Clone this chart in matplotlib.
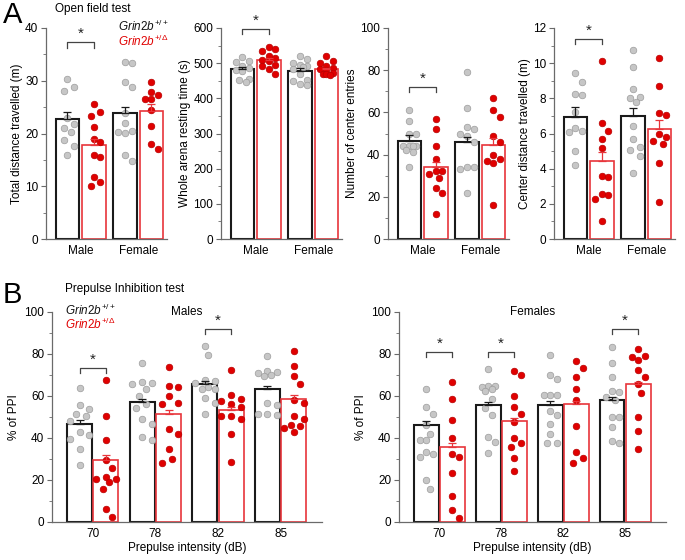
import matplotlib
matplotlib.use("Agg")
import matplotlib.pyplot as plt
import numpy as np
from matplotlib.ticker import MultipleLocator

plt.rcParams["font.family"] = "Liberation Sans"
plt.rcParams["mathtext.fontset"] = "custom"
plt.rcParams["mathtext.rm"] = "Liberation Sans"
plt.rcParams["mathtext.it"] = "Liberation Sans:italic"
plt.rcParams["font.size"] = 8

# ---------------- data: open field test (panel A) ----------------
sexes = ["Male", "Female"]

dist_wt_mean = [22.8, 23.9]
dist_wt_sem = [1.2, 1.1]
dist_het_mean = [17.9, 24.3]
dist_het_sem = [1.0, 1.2]
dist_wt_pts = [[30.3, 28.8, 28.1, 22.9, 21.8, 21.1, 20.3, 18.8, 17.6, 16.0],
               [33.6, 33.3, 29.7, 28.8, 23.9, 22.0, 20.4, 20.3, 20.1, 16.0, 14.8]]
dist_het_pts = [[25.5, 24.0, 23.3, 21.3, 18.9, 18.4, 16.0, 15.5, 11.8, 10.9, 10.0],
                [29.7, 27.8, 27.3, 26.6, 26.6, 24.5, 21.5, 18.0, 17.0]]

rest_wt_mean = [482, 478]
rest_wt_sem = [7, 8]
rest_het_mean = [508, 482]
rest_het_sem = [8, 5]
rest_wt_pts = [[518, 506, 502, 491, 485, 481, 478, 455, 452, 446],
               [520, 513, 500, 495, 493, 488, 482, 470, 452, 448, 442, 438]]
rest_het_pts = [[546, 539, 535, 520, 516, 510, 505, 496, 492, 482, 469],
                [519, 506, 500, 491, 486, 482, 480, 472, 469, 468, 467]]

entr_wt_mean = [46.6, 46.0]
entr_wt_sem = [2.8, 2.5]
entr_het_mean = [34.0, 44.7]
entr_het_sem = [2.7, 3.2]
entr_wt_pts = [[61, 56, 50, 50, 44, 44, 44, 44, 42, 41, 34],
               [79, 62, 53, 52, 50, 49, 46, 34, 34, 33, 22]]
entr_het_pts = [[57, 52, 44, 38, 32, 32, 31, 29, 24, 22, 12],
                [67, 61, 58, 49, 46, 40, 38, 37, 36, 16]]

cdist_wt_mean = [6.96, 7.0]
cdist_wt_sem = [0.55, 0.47]
cdist_het_mean = [4.46, 6.24]
cdist_het_sem = [0.5, 0.5]
cdist_wt_pts = [[9.45, 8.95, 8.25, 8.2, 7.2, 6.3, 6.15, 6.1, 5.0, 4.2],
                [10.75, 9.8, 8.55, 8.05, 8.0, 7.8, 6.45, 5.7, 5.25, 5.05, 4.7, 3.75]]
cdist_het_pts = [[10.15, 6.6, 6.15, 5.7, 5.15, 3.6, 3.55, 2.55, 2.5, 2.3, 1.0],
                 [10.3, 8.7, 7.15, 7.05, 5.95, 5.8, 5.55, 5.4, 4.3, 2.1]]

# ---------------- data: prepulse inhibition (panel B) ----------------
intensities = ["70", "78", "82", "85"]

ppi_m_wt_mean = [46.8, 57.0, 65.6, 63.2]
ppi_m_wt_sem = [1.9, 1.6, 1.5, 1.7]
ppi_m_het_mean = [29.7, 51.6, 53.2, 58.7]
ppi_m_het_sem = [2.2, 1.8, 1.8, 1.8]
ppi_m_wt_pts = [[63.8, 55.9, 54, 51.6, 50.5, 48.1, 42.9, 41.3, 39.7, 34.6, 27],
                [75.5, 66.5, 66, 65.5, 63.5, 60, 56, 54.5, 49, 46.5, 40.5, 39],
                [84, 79.5, 67.5, 67, 66, 64.5, 63.5, 63.5, 59, 56.5, 51.5],
                [79, 72, 71.5, 71, 70, 69.5, 56.5, 55.5, 51.5, 51.5, 51]]
ppi_m_het_pts = [[67.5, 50.5, 39, 29.4, 25.6, 21.4, 20.5, 20.3, 19.2, 15.5, 6.0, 2.4],
                 [73.8, 64.3, 64.8, 59.8, 56.7, 56.3, 44.1, 42, 34.6, 30.2, 28.1],
                 [72.2, 60.3, 58.7, 57.5, 56.3, 54.8, 50.5, 50.5, 49.2, 42.1, 28.6],
                 [81.5, 74.5, 69.5, 65.5, 58, 56.5, 50.5, 49, 46, 45.5, 45, 43]]

ppi_f_wt_mean = [46.3, 55.9, 55.9, 58.3]
ppi_f_wt_sem = [1.7, 1.3, 1.6, 1.1]
ppi_f_het_mean = [35.8, 48.0, 56.0, 65.5]
ppi_f_het_sem = [1.9, 1.6, 1.6, 1.2]
ppi_f_wt_pts = [[63.4, 54.8, 51.2, 46.1, 41.7, 39, 39, 33.3, 32.5, 30.9, 20, 15.7],
                [73, 65, 64.7, 64.2, 63.4, 62.3, 58.6, 54.4, 50.9, 40.4, 38, 33],
                [79.4, 69.9, 68.1, 60.7, 60.7, 60.4, 52.8, 50.9, 46.9, 41.7, 37.7, 37.4],
                [83.2, 75.8, 68.9, 62.6, 62, 59.5, 58.3, 49.9, 49.9, 45.3, 38.5, 37.4]]
ppi_f_het_pts = [[66.6, 58.6, 48.8, 40.1, 32.2, 31.1, 23.5, 12.4, 5.7, 2.1],
                 [71.8, 69.9, 59.9, 54.7, 51.2, 47.7, 40.1, 37.7, 35.8, 30.6, 24.2],
                 [76.9, 73.4, 68.9, 63.1, 58.3, 45.6, 33.4, 30.6, 27.9],
                 [82.4, 78.6, 78.9, 77.3, 72.6, 69.1, 65.5, 61.2, 50.1, 43.3, 35]]

# ---------------- style ----------------
W, H = 685, 560
WT_EDGE = "#1a1a1a"
HET_EDGE = "#e8353b"
WT_DOT = "#c6c6c6"
WT_DOT_EDGE = "#9c9c9c"
HET_DOT = "#e00000"
HET_DOT_EDGE = "#b80000"
SPINE = "#6a6a6a"
DOT_PX = 6.6
SPREAD = 1.45  # spacing kept between dots, in dot diameters


def fx(px):
    return px / W


def fy(py):
    return 1 - py / H


def swarm_x(ax, xc, vals, half_w):
    # simple beeswarm in pixel space, kept inside the bar
    vals = np.asarray(vals, dtype=float)
    disp = ax.transData.transform(np.column_stack([np.full(len(vals), xc), vals]))
    ppx = ax.transData.transform((1, 0))[0] - ax.transData.transform((0, 0))[0]
    ys = disp[:, 1]
    lim = half_w * ppx - 2.5
    step = 0.5 * DOT_PX
    steps = [0.0]
    k = 1
    while k * step <= lim:
        steps += [k * step, -k * step]
        k += 1
    placed = []
    offs = np.zeros(len(vals))
    for i in np.argsort(-ys):
        best, best_d = 0.0, -1
        for s in steps:
            d = min([np.hypot(s - px, ys[i] - py) for px, py in placed] + [99])
            if d >= SPREAD * DOT_PX:
                best = s
                break
            if d > best_d + 0.5:
                best, best_d = s, d
        placed.append((best, ys[i]))
        offs[i] = best / ppx
    return xc + offs


def draw_bars(ax, x, mean, sem, pts, het, off, width):
    edge = HET_EDGE if het else WT_EDGE
    xs = np.asarray(x) + (off if het else -off)
    ax.bar(xs, mean, width=width, facecolor="white", edgecolor=edge,
           linewidth=1.2 if het else 1.5, zorder=2)
    ax.errorbar(xs, mean, yerr=[np.zeros(len(sem)), sem], fmt="none", ecolor=edge,
                elinewidth=0.9, capsize=2.8, capthick=0.9, zorder=4)
    for xc, p in zip(xs, pts):
        ax.scatter(swarm_x(ax, xc, p, width / 2), p, s=(DOT_PX / 1.389) ** 2,
                   facecolor=HET_DOT if het else WT_DOT,
                   edgecolor=HET_DOT_EDGE if het else WT_DOT_EDGE,
                   linewidth=0.5, zorder=3, clip_on=False)


def bracket(ax, x1, x2, y, leg):
    ax.plot([x1, x1, x2, x2], [y - leg, y, y, y - leg], color="#444444",
            lw=0.9, clip_on=False, zorder=5)
    ax.text((x1 + x2) / 2, y + leg * 0.2, "*", ha="center", va="bottom",
            fontsize=11, color="#222222", clip_on=False)


def style_axes(ax, ymax, major, minor):
    ax.set_ylim(0, ymax)
    ax.yaxis.set_major_locator(MultipleLocator(major))
    ax.yaxis.set_minor_locator(MultipleLocator(minor))
    for s in ("top", "right"):
        ax.spines[s].set_visible(False)
    for s in ("left", "bottom"):
        ax.spines[s].set_color(SPINE)
        ax.spines[s].set_linewidth(0.9)
    ax.tick_params(axis="y", which="major", length=3.5, color=SPINE, labelsize=8.5, pad=2)
    ax.tick_params(axis="y", which="minor", length=2, color=SPINE)
    ax.tick_params(axis="x", length=0, labelsize=8.5, pad=4)


fig = plt.figure(figsize=(W / 100, H / 100), dpi=100)

# ---------------- panel A ----------------
a_panels = [
    ("Total distance travelled (m)", 40, 10, 5, dist_wt_mean, dist_wt_sem, dist_wt_pts,
     dist_het_mean, dist_het_sem, dist_het_pts, 37.3),
    ("Whole arena resting time (s)", 600, 100, 50, rest_wt_mean, rest_wt_sem, rest_wt_pts,
     rest_het_mean, rest_het_sem, rest_het_pts, 598),
    ("Number of center entries", 100, 20, 10, entr_wt_mean, entr_wt_sem, entr_wt_pts,
     entr_het_mean, entr_het_sem, entr_het_pts, 72),
    ("Center distance travelled (m)", 12, 2, 1, cdist_wt_mean, cdist_wt_sem, cdist_wt_pts,
     cdist_het_mean, cdist_het_sem, cdist_het_pts, 11.4),
]
a_left = [46, 221, 388, 554]
a_off, a_w = 0.23, 0.41
xa = np.arange(len(sexes))
for left, panel in zip(a_left, a_panels):
    (ylab, ymax, major, minor, wm, ws, wp, hm, hs, hp, by) = panel
    ax = fig.add_axes([fx(left), fy(239), 121 / W, 211 / H])
    ax.set_xlim(-0.6, 1.5)
    style_axes(ax, ymax, major, minor)
    draw_bars(ax, xa, wm, ws, wp, False, a_off, a_w)
    draw_bars(ax, xa, hm, hs, hp, True, a_off, a_w)
    ax.set_xticks(xa)
    ax.set_xticklabels(sexes)
    ax.set_ylabel(ylab, fontsize=8.5, labelpad=1.5)
    bracket(ax, -a_off, a_off, by, ymax * 0.025)

# ---------------- panel B ----------------
b_panels = [
    (52, 270, "Males", ppi_m_wt_mean, ppi_m_wt_sem, ppi_m_wt_pts,
     ppi_m_het_mean, ppi_m_het_sem, ppi_m_het_pts, [(0, 73.5), (2, 92)]),
    (399, 267, "Females", ppi_f_wt_mean, ppi_f_wt_sem, ppi_f_wt_pts,
     ppi_f_het_mean, ppi_f_het_sem, ppi_f_het_pts, [(0, 81), (1, 81), (3, 92)]),
]
b_off, b_w = 0.21, 0.40
xb = np.arange(len(intensities))
for panel in b_panels:
    (left, width, title, wm, ws, wp, hm, hs, hp, sig) = panel
    ax = fig.add_axes([fx(left), fy(522), width / W, 210 / H])
    ax.set_xlim(-0.65, 3.66)
    style_axes(ax, 100, 20, 10)
    draw_bars(ax, xb, wm, ws, wp, False, b_off, b_w)
    draw_bars(ax, xb, hm, hs, hp, True, b_off, b_w)
    ax.set_xticks(xb)
    ax.set_xticklabels(intensities)
    ax.set_ylabel("% of PPI", fontsize=8.5, labelpad=3)
    ax.set_xlabel("Prepulse intensity (dB)", fontsize=8.5, labelpad=2)
    ax.text(0.5, 1.0, title, transform=ax.transAxes, ha="center", va="center", fontsize=8.5)
    for gi, by in sig:
        bracket(ax, gi - b_off, gi + b_off, by, 2.5)

# ---------------- labels and legends ----------------
wt_lab = r"$\mathit{Grin2b}^{+/+}$"
het_lab = r"$\mathit{Grin2b}^{+/\Delta}$"
fig.text(fx(3), fy(15), "A", fontsize=21, va="center")
fig.text(fx(55), fy(9), "Open field test", fontsize=8.5, va="center")
fig.text(fx(118), fy(26), wt_lab, fontsize=8.5, va="center", color="#111111")
fig.text(fx(118), fy(41), het_lab, fontsize=8.5, va="center", color="#e00000")
fig.text(fx(3), fy(295), "B", fontsize=21, va="center")
fig.text(fx(65), fy(289), "Prepulse Inhibition test", fontsize=8.5, va="center")
fig.text(fx(65), fy(310), wt_lab, fontsize=8.5, va="center", color="#111111")
fig.text(fx(65), fy(324), het_lab, fontsize=8.5, va="center", color="#e00000")

fig.savefig("out.png", dpi=100)
